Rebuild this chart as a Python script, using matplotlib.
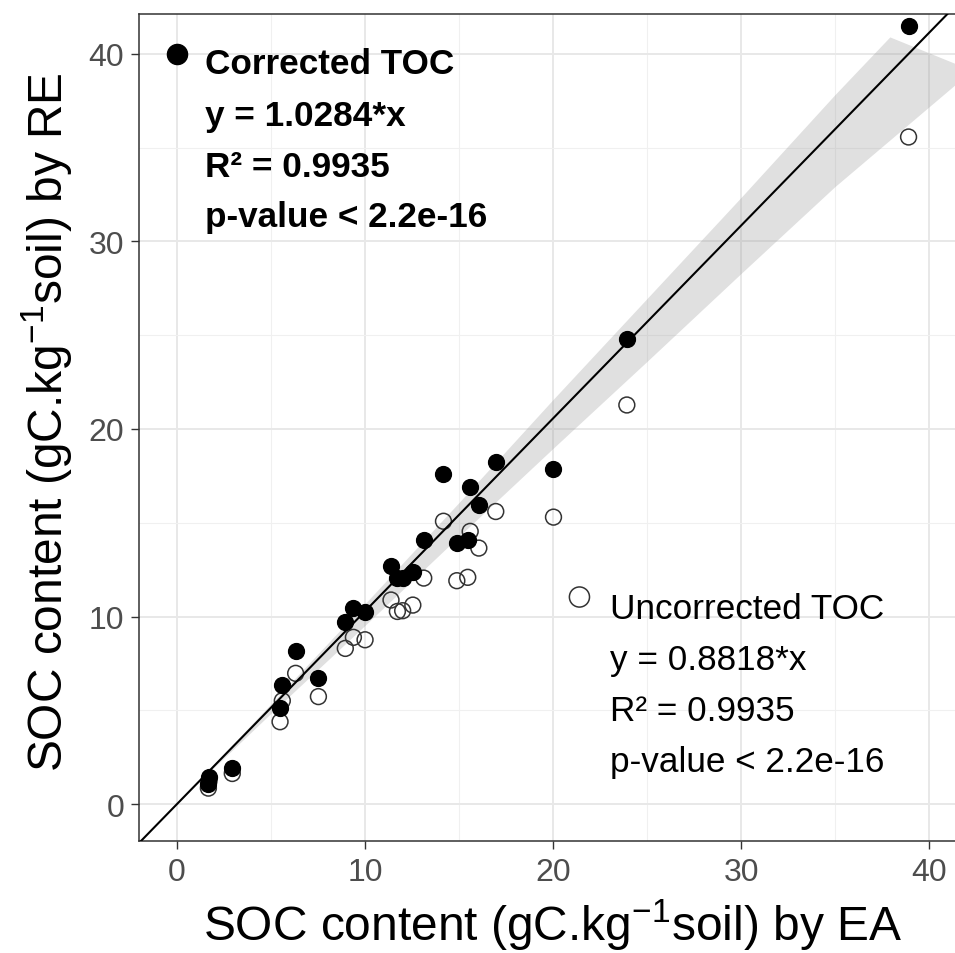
import numpy as np
import matplotlib
matplotlib.use("Agg")
import matplotlib.pyplot as plt

plt.rcParams['font.family'] = ['Liberation Sans', 'DejaVu Sans']
plt.rcParams['mathtext.fontset'] = 'custom'
plt.rcParams['mathtext.rm'] = 'Liberation Sans'
plt.rcParams['mathtext.it'] = 'Liberation Sans:italic'
plt.rcParams['mathtext.bf'] = 'Liberation Sans:bold'

# SOC by EA (x) and by RE (corrected / uncorrected TOC)
ea = [1.70, 1.67, 2.94, 5.48, 5.60, 6.31, 7.52, 8.95, 9.38, 10.00, 11.38, 11.72,
      12.00, 12.54, 13.12, 14.17, 14.88, 15.46, 15.59, 16.05, 16.95, 20.02, 23.92, 38.90]
re_corr = [1.42, 1.05, 1.90, 5.10, 6.36, 8.14, 6.72, 9.72, 10.44, 10.22, 12.68, 12.04,
           12.04, 12.39, 14.08, 17.60, 13.92, 14.10, 16.89, 15.95, 18.22, 17.87, 24.80, 41.50]
re_uncorr = [1.22, 0.85, 1.63, 4.39, 5.51, 6.97, 5.73, 8.30, 8.89, 8.76, 10.88, 10.27,
             10.31, 10.61, 12.05, 15.08, 11.91, 12.09, 14.54, 13.65, 15.60, 15.30, 21.28, 35.57]

slope = 1.0284

# confidence band outline (upper edge, end corner, lower edge)
band_x_hi = [1.6, 5, 10, 15, 20, 25, 30, 35, 37.93]
band_hi = [1.70, 5.29, 10.63, 16.03, 21.52, 26.91, 32.30, 37.79, 40.88]
band_corner = (42.3, 39.1)
band_x_lo = [1.6, 5, 10, 15, 20, 25, 30, 35, 41.4]
band_lo = [1.55, 4.79, 9.48, 14.23, 18.92, 23.56, 28.25, 32.89, 38.33]

corr_lines = ["Corrected TOC", "y = 1.0284*x", "R² = 0.9935", "p-value < 2.2e-16"]
uncorr_lines = ["Uncorrected TOC", "y = 0.8818*x", "R² = 0.9935", "p-value < 2.2e-16"]
corr_text_y = [38.99, 36.21, 33.51, 30.84]
uncorr_text_y = [9.90, 7.20, 4.50, 1.78]

ticks = [0, 10, 20, 30, 40]

fig = plt.figure(figsize=(9.55, 9.54), dpi=100)
ax = fig.add_axes([0.14555, 0.1174, 0.8649, 0.8669])
ax.set_xlim(-2.02, 41.9)
ax.set_ylim(-1.97, 42.13)

ax.set_xticks(ticks)
ax.set_yticks(ticks)
ax.set_xticks([5, 15, 25, 35], minor=True)
ax.set_yticks([5, 15, 25, 35], minor=True)
ax.grid(which='major', color='#E8E8E8', lw=1.4, zorder=0)
ax.grid(which='minor', color='#F0F0F0', lw=0.8, zorder=0)
ax.set_axisbelow(True)
ax.tick_params(which='minor', length=0)
ax.tick_params(which='major', length=5.8, width=1.0, color='#333333',
               labelsize=23, labelcolor='#4D4D4D')
ax.tick_params(axis='x', pad=6)
ax.tick_params(axis='y', pad=5)
for s in ax.spines.values():
    s.set_color('#333333')
    s.set_linewidth(1.1)
ax.spines['right'].set_visible(False)

# band
px = np.concatenate([band_x_hi, [band_corner[0]], band_x_lo[::-1]])
py = np.concatenate([band_hi, [band_corner[1]], band_lo[::-1]])
ax.fill(px, py, color='#999999', alpha=0.3, lw=0, zorder=1)

# points
ax.scatter(ea, re_uncorr, s=130, facecolors='none', edgecolors='#333333', linewidths=1.1, zorder=2)
ax.scatter(ea, re_corr, s=130, color='black', zorder=3)

# fitted line
xl = np.array(ax.get_xlim())
ax.plot(xl, slope * xl, color='black', lw=1.5, zorder=4)

# annotation keys
ax.scatter([0], [40], s=210, color='black', zorder=5)
ax.scatter([21.4], [11.04], s=210, facecolors='none', edgecolors='#333333', linewidths=1.1, zorder=5)

for t, yy in zip(corr_lines, corr_text_y):
    ax.text(1.47, yy, t, fontsize=25.3, fontweight='bold', ha='left', va='baseline', zorder=6)
for t, yy in zip(uncorr_lines, uncorr_text_y):
    ax.text(23.03, yy, t, fontsize=25.3, ha='left', va='baseline', zorder=6)

fig.text(0.579, 0.0135, r'SOC content (gC.kg$^{-1}$soil) by EA', fontsize=34.5,
         ha='center', va='baseline')
fig.text(0.066, 0.558, r'SOC content (gC.kg$^{-1}$soil) by RE', fontsize=34.5,
         ha='center', va='baseline', rotation=90, rotation_mode='anchor')

fig.savefig('out.png', dpi=100)
